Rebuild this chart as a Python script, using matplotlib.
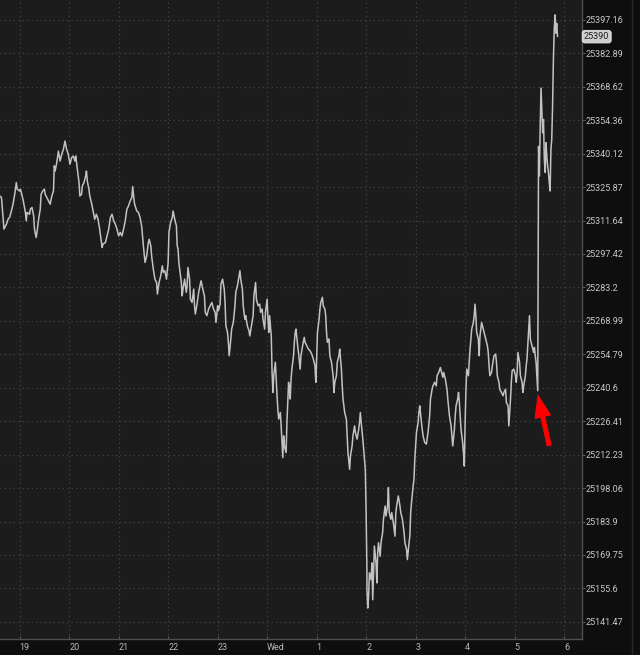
import matplotlib
matplotlib.use('Agg')
import matplotlib.pyplot as plt
import matplotlib.transforms as mtransforms
from matplotlib.ticker import NullLocator, NullFormatter, FixedLocator, FixedFormatter
from matplotlib.lines import Line2D

plt.rcParams['font.family'] = ['Roboto', 'DejaVu Sans']

# ---- data: minutes since 19:00, price ----
minutes = [
    -24, -22, -20, -19, -16, -14, -12, -10, -8, -6,
    -4, -3, 0, 1, 3, 4, 7, 8, 9, 12,
    13, 15, 17, 18, 20, 21, 23, 25, 26, 28,
    30, 31, 33, 35, 37, 39, 41, 42, 43, 45,
    47, 49, 51, 53, 55, 57, 59, 61, 63, 65,
    67, 68, 70, 72, 73, 75, 76, 78, 80, 81,
    82, 84, 85, 87, 89, 91, 93, 95, 97, 100,
    101, 104, 106, 108, 110, 112, 114, 116, 118, 120,
    122, 124, 126, 128, 130, 132, 134, 136, 137, 139,
    140, 142, 144, 146,
    148, 150, 152, 154, 156, 157, 159, 160, 162, 164,
    166, 167, 169, 171, 173, 174, 176, 178, 180, 181,
    183, 185, 186, 188, 190, 191, 192, 193, 194, 196,
    197, 198, 200, 202, 203, 204, 206, 207, 209, 211,
    212, 213, 215, 217, 219, 220, 222, 224, 225, 227,
    229, 231, 233, 235, 237, 238, 240, 241, 243, 244,
    246, 248, 249, 250, 252, 253, 254, 256, 257, 259,
    261, 262, 264, 266, 267, 268, 270, 271, 273, 274,
    276, 278, 279, 281, 283, 284, 286, 287, 289, 291,
    292, 294, 295, 297, 298, 300, 301, 302, 303,
    305, 306, 307, 308, 310, 311, 312, 313, 314, 316,
    317, 318, 319, 320, 321, 323, 324, 325, 326, 327,
    328, 329, 330, 332, 333, 334, 335, 337, 338, 340,
    341, 343, 345, 346, 348, 350, 352, 354, 356, 358,
    359, 360, 361, 363, 364, 365, 367, 368, 370, 371,
    372, 373, 375, 376, 378, 380, 381, 382, 384, 385,
    387, 388, 390, 391, 392, 394, 396, 397, 398, 400,
    401, 403, 404, 406, 407, 409, 411, 412, 413, 414,
    416, 417, 419, 420, 421, 421, 422, 423, 424, 426,
    427, 428, 429, 430, 432, 433, 434, 435, 437, 438,
    440, 441, 443, 444, 446, 447, 448, 450, 451, 453,
    455, 456, 457, 459, 461, 462, 464, 466, 467, 469,
    470, 472, 473, 474, 475, 477, 478, 479, 480, 481,
    483, 484, 485,
    487, 488, 489, 491, 493, 495, 497, 498, 500, 501,
    503, 505, 506, 508, 510, 511, 513, 514, 516, 518,
    519, 521, 523, 524, 525, 527, 528, 529, 531, 532,
    533, 534, 535, 537, 538, 539, 540, 541, 542, 544,
    545, 546, 547, 548, 550, 551, 552, 553, 554, 556,
    557, 558, 560, 562, 563, 565, 567, 568, 569, 570,
    572, 573, 575, 577, 578, 579, 581, 582, 584, 586,
    587, 589, 590, 592, 593, 595, 596, 597, 599, 601,
    602, 603, 604, 606, 607, 609, 610, 611, 613, 614,
    615, 617, 618, 619, 620, 621, 623, 624, 625, 626,
    628,
    629, 630, 631, 632, 633, 634, 635, 636, 637, 638,
    639, 640, 641, 642, 643, 644, 645, 646, 647, 648,
    649, 650, 651, 652,
]

prices = [
    25322.1, 25321.4, 25312.2, 25308.0, 25310.1, 25312.2, 25313.1, 25315.7, 25318.6, 25322.8,
    25327.8, 25325.0, 25324.2, 25325.0, 25322.1, 25320.7, 25315.1, 25311.5, 25315.1, 25314.3,
    25316.5, 25317.2, 25313.6, 25308.0, 25304.4, 25306.6, 25312.2, 25316.5, 25322.8, 25324.2,
    25325.0, 25322.8, 25321.4, 25320.0, 25318.6, 25322.1, 25324.2, 25334.9, 25332.7, 25336.3,
    25341.2, 25337.0, 25339.8, 25341.9, 25345.5, 25341.9, 25339.8, 25335.6, 25338.4, 25339.1,
    25337.0, 25339.1, 25333.5, 25327.8, 25322.1, 25322.8, 25326.4, 25327.8, 25330.6, 25332.7,
    25328.5, 25325.0, 25322.1, 25319.3, 25315.7, 25312.2, 25314.3, 25312.2, 25308.0, 25300.2,
    25301.6, 25302.3, 25305.1, 25308.0, 25312.9, 25314.3, 25311.5, 25310.1, 25308.0, 25305.1,
    25306.6, 25305.1, 25308.0, 25311.5, 25316.5, 25317.9, 25320.0, 25321.4, 25326.1, 25319.3,
    25317.9, 25315.7, 25315.1, 25312.9,
    25309.0, 25300.9, 25293.8, 25296.6, 25302.3, 25303.7, 25300.9, 25296.6, 25291.0, 25286.7,
    25285.3, 25280.4, 25285.3, 25288.1, 25292.4, 25289.6, 25290.3, 25286.7, 25293.8, 25306.6,
    25310.8, 25312.9, 25315.7, 25312.2, 25309.4, 25300.9, 25299.5, 25293.8, 25291.0, 25285.3,
    25279.6, 25282.5, 25286.7, 25281.1, 25283.9, 25291.7, 25286.7, 25278.2, 25276.8, 25282.5,
    25275.4, 25271.9, 25276.1, 25281.1, 25284.6, 25286.0, 25282.5, 25279.6, 25272.6, 25271.2,
    25274.0, 25275.4, 25276.8, 25274.0, 25272.6, 25268.3, 25275.4, 25273.3, 25276.1, 25284.6,
    25286.7, 25282.5, 25276.8, 25266.9, 25264.1, 25259.9, 25254.2, 25261.3, 25265.5, 25268.3,
    25275.4, 25281.1, 25283.9, 25288.1, 25290.3, 25286.7, 25282.5, 25275.4, 25269.7, 25271.2,
    25266.9, 25264.8, 25262.6, 25266.9, 25271.2, 25279.6, 25285.3, 25278.2, 25275.4, 25276.1,
    25272.6, 25274.0, 25269.7, 25265.5, 25272.6, 25278.2, 25269.7, 25264.1, 25271.2,
    25262.6, 25247.1, 25238.6, 25245.7, 25251.4, 25244.3, 25237.2, 25231.5, 25227.3, 25230.1,
    25224.4, 25217.4, 25211.0, 25220.2, 25215.9, 25213.1, 25225.9, 25234.4, 25242.9, 25240.0,
    25235.8, 25244.3, 25248.5, 25254.2, 25259.9, 25264.1, 25265.5, 25258.4, 25255.6, 25248.5,
    25254.2, 25258.4, 25262.0, 25259.9, 25258.4, 25257.0, 25256.3, 25254.9, 25252.8, 25249.9,
    25242.9, 25252.8, 25264.1, 25269.7, 25274.0, 25276.8, 25279.0, 25275.4, 25274.0, 25271.2,
    25264.1, 25259.9, 25261.3, 25254.2, 25251.4, 25245.7, 25238.6, 25242.9, 25245.7, 25251.4,
    25254.2, 25257.0, 25248.5, 25241.4, 25235.8, 25230.1, 25227.3, 25220.2, 25213.1, 25206.0,
    25211.7, 25215.9, 25220.2, 25224.4, 25221.6, 25218.8, 25223.0, 25225.9, 25230.1, 25225.9,
    25218.8, 25214.5, 25206.0, 25187.7, 25162.2, 25155.1, 25147.3, 25152.2, 25162.2, 25159.3,
    25166.4, 25150.8, 25162.2, 25173.5, 25166.4, 25157.9, 25170.7, 25174.9, 25169.2, 25174.9,
    25179.2, 25184.8, 25190.5, 25186.2, 25190.5, 25198.3, 25187.7, 25184.8, 25187.7, 25183.4,
    25177.7, 25187.7, 25190.5, 25194.7, 25190.5, 25187.7, 25184.8, 25179.2, 25174.9, 25172.1,
    25167.8, 25174.9, 25177.7, 25187.7, 25191.9, 25199.0, 25201.8, 25210.3, 25215.9, 25221.6,
    25225.9, 25230.1, 25232.9,
    25225.9, 25223.0, 25220.2, 25217.4, 25216.7, 25221.6, 25228.7, 25235.8, 25240.0, 25241.4,
    25242.9, 25241.4, 25245.7, 25247.1, 25249.2, 25247.8, 25245.0, 25247.1, 25244.3, 25240.0,
    25235.8, 25228.7, 25224.4, 25220.2, 25215.9, 25223.0, 25228.7, 25232.9, 25235.8, 25238.6,
    25234.4, 25228.7, 25223.0, 25217.4, 25213.1, 25207.4, 25225.9, 25240.0, 25248.5, 25245.7,
    25252.0, 25257.0, 25261.3, 25265.5, 25268.3, 25271.2, 25276.1, 25271.2, 25264.1, 25261.3,
    25254.2, 25262.6, 25268.3, 25265.5, 25264.1, 25261.3, 25258.4, 25255.6, 25249.9, 25245.7,
    25247.1, 25249.9, 25254.2, 25254.9, 25251.4, 25245.7, 25242.9, 25240.0, 25238.6, 25237.2,
    25238.6, 25240.0, 25234.4, 25232.9, 25224.4, 25235.8, 25242.9, 25247.8, 25248.5, 25245.7,
    25242.9, 25247.1, 25255.6, 25251.4, 25245.7, 25242.9, 25238.6, 25241.4, 25245.7, 25249.9,
    25252.8, 25265.5, 25271.2, 25261.3, 25259.9, 25258.4, 25255.6, 25257.7, 25254.2, 25251.4,
    25239.3,
    25343.2, 25330.6, 25351.8, 25368.1, 25358.9, 25349.0, 25354.7, 25337.7, 25332.1, 25344.8,
    25339.1, 25334.9, 25332.1, 25327.8, 25324.2, 25341.9, 25346.2, 25360.3, 25380.2, 25392.9,
    25399.3, 25391.5, 25395.7, 25390.1,
]

x_ticks = [0, 60, 120, 180, 240, 300, 360, 420, 480, 540, 600, 660]
x_labels = ['19', '20', '21', '22', '23', 'Wed', '1', '2', '3', '4', '5', '6']

y_ticks = [25397.16, 25382.89, 25368.62, 25354.36, 25340.12, 25325.87, 25311.64,
           25297.42, 25283.2, 25268.99, 25254.79, 25240.6, 25226.41, 25212.23,
           25198.06, 25183.9, 25169.75, 25155.6, 25141.47]
y_labels = ['25397.16', '25382.89', '25368.62', '25354.36', '25340.12', '25325.87',
            '25311.64', '25297.42', '25283.2', '25268.99', '25254.79', '25240.6',
            '25226.41', '25212.23', '25198.06', '25183.9', '25169.75', '25155.6',
            '25141.47']

last_price = 25390
last_label = '25390'
arrow_tip = (628, 25237.9)
arrow_tail = (642, 25215.9)

n = min(len(minutes), len(prices))

fig = plt.figure(figsize=(6.4, 6.55), dpi=100, facecolor='#0e0e0e')
ax = fig.add_axes([0, 0.024, 0.9089, 0.976])
ax.set_facecolor('#1c1c1c')

ax.plot(minutes[:n], prices[:n], color='#c2c2c2', lw=1.1, zorder=3)

ax.set_yscale('log')
ax.set_ylim(25134.1, 25405.65)
ax.set_xlim(-23.8, 681.3)

ax.yaxis.set_major_locator(FixedLocator(y_ticks))
ax.yaxis.set_major_formatter(FixedFormatter(y_labels))
ax.yaxis.set_minor_locator(NullLocator())
ax.yaxis.set_minor_formatter(NullFormatter())
ax.yaxis.tick_right()
ax.tick_params(axis='y', which='major', direction='out', length=2.0, width=0.8,
               color='#606060', pad=0.5, labelsize=6.5, labelcolor='#c8c8c8')

ax.set_xticks(x_ticks)
ax.set_xticklabels(x_labels, ha='left')
ax.tick_params(axis='x', direction='in', length=2.5, width=0.8, color='#5a5a5a',
               pad=2.7, labelsize=6.5, labelcolor='#b8b8b8')

ax.grid(True, which='major', color='#4a4a4a', linestyle=(0, (1, 3)), linewidth=0.8)
ax.set_axisbelow(True)

for s in ['left', 'top']:
    ax.spines[s].set_visible(False)
for s in ['right', 'bottom']:
    ax.spines[s].set_color('#505050')
    ax.spines[s].set_linewidth(1.0)

ax.annotate('', xy=arrow_tip, xytext=arrow_tail,
            arrowprops=dict(arrowstyle='simple,head_length=0.85,head_width=0.62,tail_width=0.18',
                            fc='#ff0000', ec='#ff0000', lw=0, mutation_scale=20,
                            shrinkA=0, shrinkB=0), zorder=5)

trans = mtransforms.blended_transform_factory(ax.transAxes, ax.transData)
ax.text(1.004, last_price, last_label, transform=trans, ha='left', va='center',
        fontsize=6.5, color='#1e1e1e', clip_on=False,
        bbox=dict(boxstyle='round,pad=0.2,rounding_size=0.3', fc='#cfcfcf',
                  ec='#e6e6e6', lw=0.6))

fig.add_artist(Line2D([632 / 640, 632 / 640], [0, 1], transform=fig.transFigure,
                      color='#2a2a2a', lw=1))

fig.savefig('out.png', dpi=100, facecolor=fig.get_facecolor())
